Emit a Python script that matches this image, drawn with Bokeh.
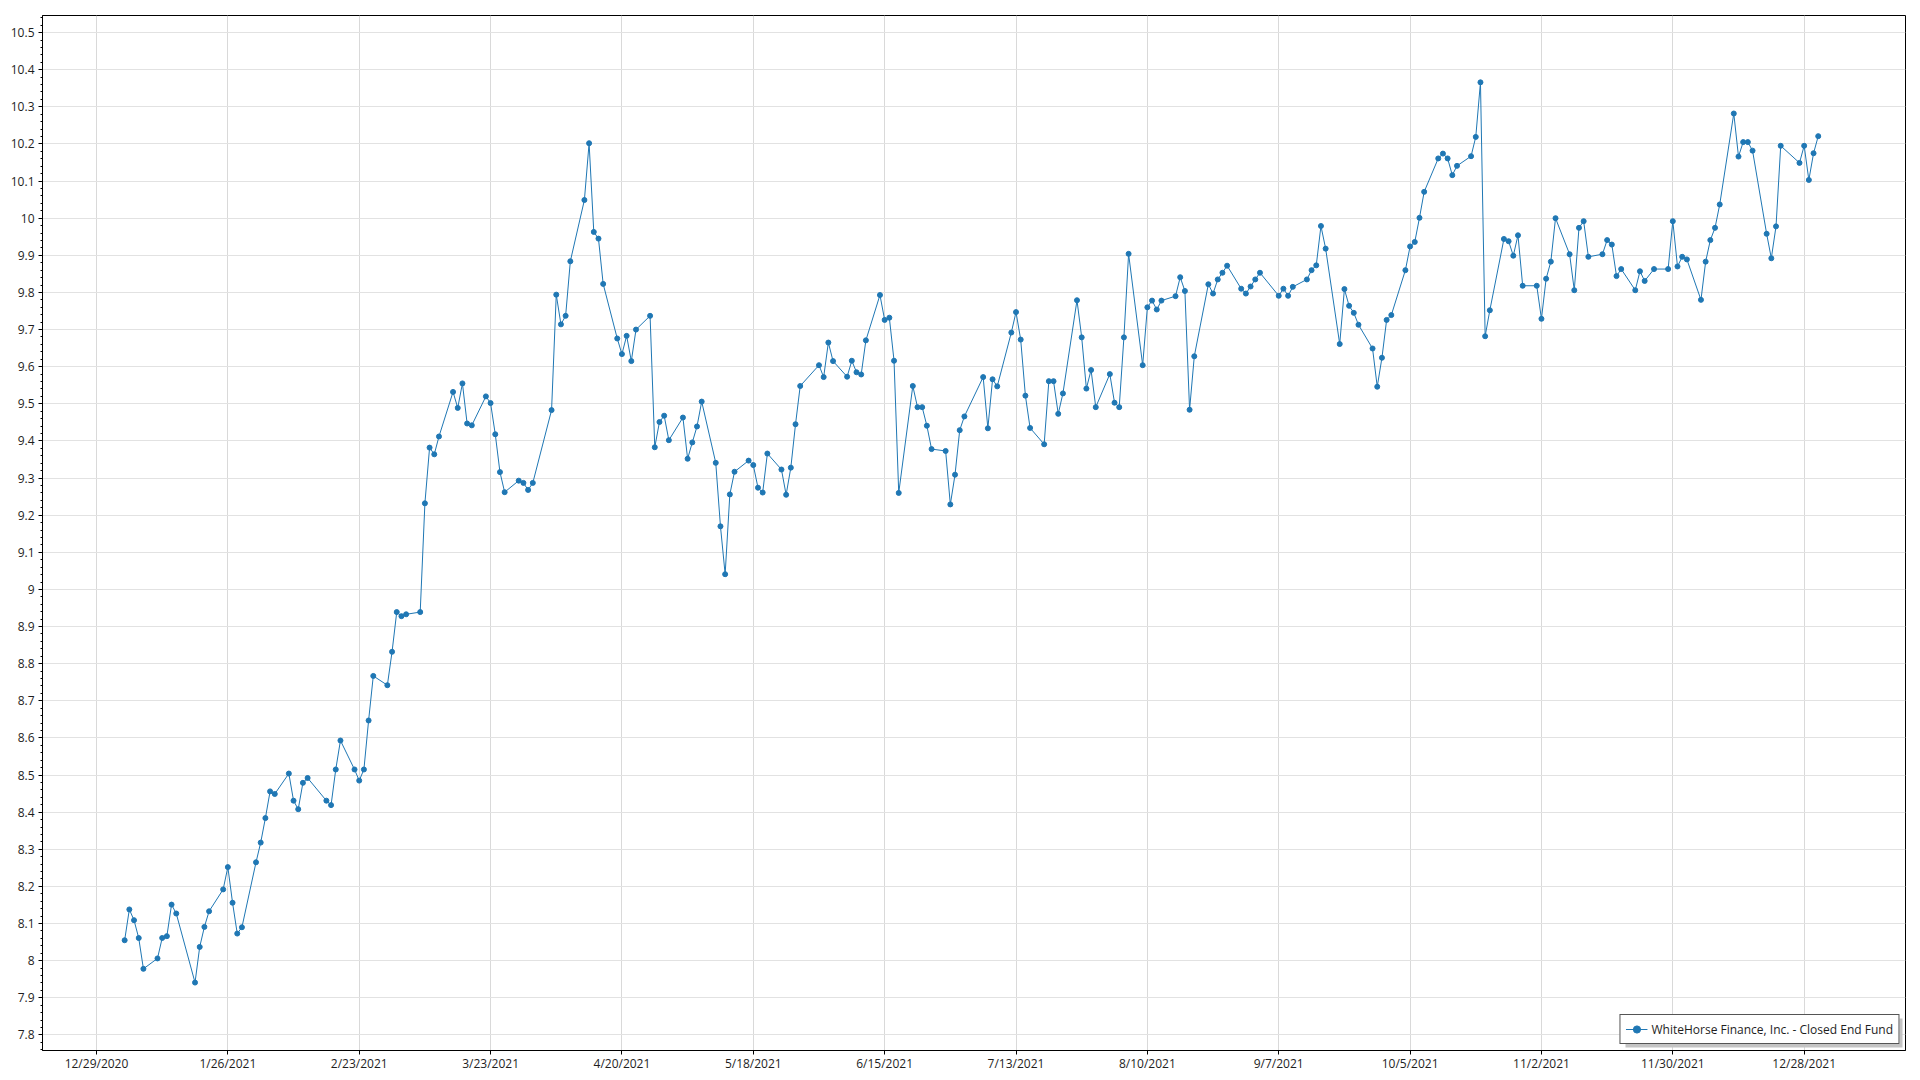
import pandas as pd
from bokeh.plotting import figure
from bokeh.models import (ColumnDataSource, FixedTicker, NumeralTickFormatter, Legend,
                          LegendItem, BoxAnnotation, Range1d)
from bokeh.embed import file_html
from bokeh.resources import INLINE

# ---- data: 2021 daily closing prices (trading days per month) ----
jan_days = [4, 5, 6, 7, 8, 11, 12, 13, 14, 15, 19, 20, 21, 22, 25, 26, 27, 28, 29]
jan = [8.055, 8.138, 8.109, 8.061, 7.978, 8.006, 8.061, 8.066, 8.151, 8.127, 7.941, 8.037,
       8.091, 8.133, 8.192, 8.252, 8.156, 8.073, 8.090]
feb_days = [1, 2, 3, 4, 5, 8, 9, 10, 11, 12, 16, 17, 18, 19, 22, 23, 24, 25, 26]
feb = [8.265, 8.318, 8.384, 8.456, 8.449, 8.504, 8.431, 8.408, 8.479, 8.492, 8.431, 8.419,
       8.515, 8.593, 8.515, 8.485, 8.515, 8.647, 8.767]
mar_days = [1, 2, 3, 4, 5, 8, 9, 10, 11, 12, 15, 16, 17, 18, 19, 22, 23, 24, 25, 26, 29, 30, 31]
mar = [8.742, 8.832, 8.939, 8.928, 8.933, 8.939, 9.232, 9.382, 9.364, 9.412, 9.532, 9.489,
       9.555, 9.447, 9.442, 9.520, 9.502, 9.418, 9.316, 9.262, 9.293, 9.287, 9.268]
apr_days = [1, 5, 6, 7, 8, 9, 12, 13, 14, 15, 16, 19, 20, 21, 22, 23, 26, 27, 28, 29, 30]
apr = [9.287, 9.483, 9.794, 9.714, 9.737, 9.884, 10.049, 10.202, 9.963, 9.945, 9.823, 9.676,
       9.634, 9.683, 9.615, 9.700, 9.737, 9.383, 9.451, 9.468, 9.402]
may_days = [3, 4, 5, 6, 7, 10, 11, 12, 13, 14, 17, 18, 19, 20, 21, 24, 25, 26, 27, 28]
may = [9.463, 9.352, 9.396, 9.439, 9.506, 9.341, 9.170, 9.041, 9.256, 9.317, 9.347, 9.335,
       9.274, 9.261, 9.366, 9.323, 9.255, 9.328, 9.445, 9.548]
jun_days = [1, 2, 3, 4, 7, 8, 9, 10, 11, 14, 15, 16, 17, 18, 21, 22, 23, 24, 25, 28, 29, 30]
jun = [9.604, 9.572, 9.665, 9.615, 9.573, 9.616, 9.585, 9.579, 9.671, 9.793, 9.726, 9.732,
       9.616, 9.260, 9.548, 9.491, 9.491, 9.441, 9.378, 9.373, 9.229, 9.309]
jul_days = [1, 2, 6, 7, 8, 9, 12, 13, 14, 15, 16, 19, 20, 21, 22, 23, 26, 27, 28, 29, 30]
jul = [9.429, 9.466, 9.572, 9.434, 9.566, 9.547, 9.692, 9.747, 9.673, 9.522, 9.435, 9.391,
       9.561, 9.561, 9.473, 9.528, 9.779, 9.679, 9.541, 9.591, 9.491]
aug_days = [2, 3, 4, 5, 6, 9, 10, 11, 12, 13, 16, 17, 18, 19, 20, 23, 24, 25, 26, 27, 30, 31]
aug = [9.580, 9.503, 9.491, 9.679, 9.904, 9.604, 9.760, 9.778, 9.754, 9.778, 9.790, 9.841,
       9.804, 9.484, 9.628, 9.822, 9.797, 9.835, 9.853, 9.872, 9.810, 9.797]
sep_days = [1, 2, 3, 7, 8, 9, 10, 13, 14, 15, 16, 17, 20, 21, 22, 23, 24, 27, 28, 29, 30]
sep = [9.816, 9.835, 9.853, 9.791, 9.810, 9.791, 9.815, 9.835, 9.860, 9.873, 9.979, 9.918,
       9.661, 9.809, 9.764, 9.745, 9.713, 9.649, 9.546, 9.624, 9.726]
oct_days = [1, 4, 5, 6, 7, 8, 11, 12, 13, 14, 15, 18, 19, 20, 21, 22, 25, 26, 27, 28, 29]
oct_ = [9.739, 9.860, 9.924, 9.936, 10.001, 10.071, 10.161, 10.174, 10.161, 10.116, 10.141,
        10.167, 10.219, 10.366, 9.682, 9.752, 9.944, 9.938, 9.899, 9.954, 9.818]
nov_days = [1, 2, 3, 4, 5, 8, 9, 10, 11, 12, 15, 16, 17, 18, 19, 22, 23, 24, 26, 29, 30]
nov = [9.818, 9.729, 9.837, 9.883, 10.000, 9.903, 9.806, 9.974, 9.992, 9.896, 9.903, 9.941,
       9.929, 9.844, 9.863, 9.806, 9.857, 9.831, 9.863, 9.863, 9.992]
dec_days = [1, 2, 3, 6, 7, 8, 9, 10, 13, 14, 15, 16, 17, 20, 21, 22, 23, 27, 28, 29, 30, 31]
dec = [9.870, 9.896, 9.889, 9.780, 9.883, 9.941, 9.974, 10.037, 10.282, 10.166, 10.205,
       10.205, 10.182, 9.958, 9.892, 9.978, 10.195, 10.149, 10.195, 10.103, 10.175, 10.221]

series_name = "WhiteHorse Finance, Inc. - Closed End Fund"
x_tick_labels = ["12/29/2020", "1/26/2021", "2/23/2021", "3/23/2021", "4/20/2021",
                 "5/18/2021", "6/15/2021", "7/13/2021", "8/10/2021", "9/7/2021",
                 "10/5/2021", "11/2/2021", "11/30/2021", "12/28/2021"]

# ---- build table ----
months = [(jan_days, jan), (feb_days, feb), (mar_days, mar), (apr_days, apr),
          (may_days, may), (jun_days, jun), (jul_days, jul), (aug_days, aug),
          (sep_days, sep), (oct_days, oct_), (nov_days, nov), (dec_days, dec)]
dates, prices = [], []
for m, (days, vals) in enumerate(months, start=1):
    for d, v in zip(days, vals):
        dates.append(pd.Timestamp(2021, m, d))
        prices.append(v)
source = ColumnDataSource(dict(date=dates, price=prices))

x_ticks = [pd.to_datetime(s, format="%m/%d/%Y").value / 1e6 for s in x_tick_labels]
y_ticks = [round(7.8 + 0.1 * i, 1) for i in range(28)]
y_minor = [round(7.76 + 0.02 * i, 2) for i in range(140)]

origin = pd.Timestamp("2020-12-29")
day = pd.Timedelta(days=1)

BLUE = "#1f77b4"
FONT = "Open Sans"

p = figure(x_axis_type="datetime", frame_width=1863, frame_height=1035,
           x_range=Range1d(origin - day * 11.51, origin + day * 385.6),
           y_range=Range1d(7.758, 10.546),
           output_backend="svg", toolbar_location=None,
           min_border_left=42, min_border_right=15, min_border_top=15, min_border_bottom=30)

line_r = p.line("date", "price", source=source, color=BLUE, line_width=1)
dot_r = p.scatter("date", "price", source=source, size=5, color=BLUE)

xt = FixedTicker(ticks=x_ticks)
p.xaxis.ticker = xt
p.xgrid.ticker = xt
p.xaxis.major_label_overrides = {t: l for t, l in zip(x_ticks, x_tick_labels)}
p.xaxis.minor_tick_line_color = None

yt = FixedTicker(ticks=y_ticks, minor_ticks=y_minor)
p.yaxis.ticker = yt
p.ygrid.ticker = yt
p.yaxis.formatter = NumeralTickFormatter(format="0.[0]")

for ax in (p.xaxis[0], p.yaxis[0]):
    ax.axis_line_color = "black"
    ax.axis_line_width = 1
    ax.major_tick_line_color = "black"
    ax.major_tick_out = 4
    ax.major_tick_in = 0
    ax.minor_tick_line_color = "black"
    ax.minor_tick_out = 2
    ax.minor_tick_in = 0
    ax.major_label_text_font = FONT
    ax.major_label_text_font_size = "12px"
    ax.major_label_text_color = "#1e1e1e"
    ax.major_label_standoff = 4
p.xaxis.minor_tick_line_color = None
p.xaxis.major_label_standoff = 0

p.xgrid.grid_line_color = "#d9d9d9"
p.ygrid.grid_line_color = "#e2e2e2"
p.outline_line_color = "black"
p.outline_line_alpha = 1
p.outline_line_width = 1
p.background_fill_color = "white"
p.border_fill_color = "white"

shadow = BoxAnnotation(left=1625, right=1902, top=1018, bottom=1047,
                       left_units="canvas", right_units="canvas",
                       top_units="canvas", bottom_units="canvas",
                       fill_color="#c4c4c4", fill_alpha=1, line_color=None)
p.add_layout(shadow)

legend = Legend(items=[LegendItem(label=series_name, renderers=[line_r, dot_r])],
                location="bottom_right", margin=6, padding=5, spacing=0,
                label_text_font=FONT, label_text_font_size="12px", label_text_color="#1e1e1e",
                label_standoff=4, glyph_width=22, glyph_height=18, label_height=18,
                border_line_color="#555555", border_line_width=1, border_line_alpha=1,
                background_fill_color="white", background_fill_alpha=1)
p.add_layout(legend)

open("out.html", "w").write(file_html(p, INLINE))
